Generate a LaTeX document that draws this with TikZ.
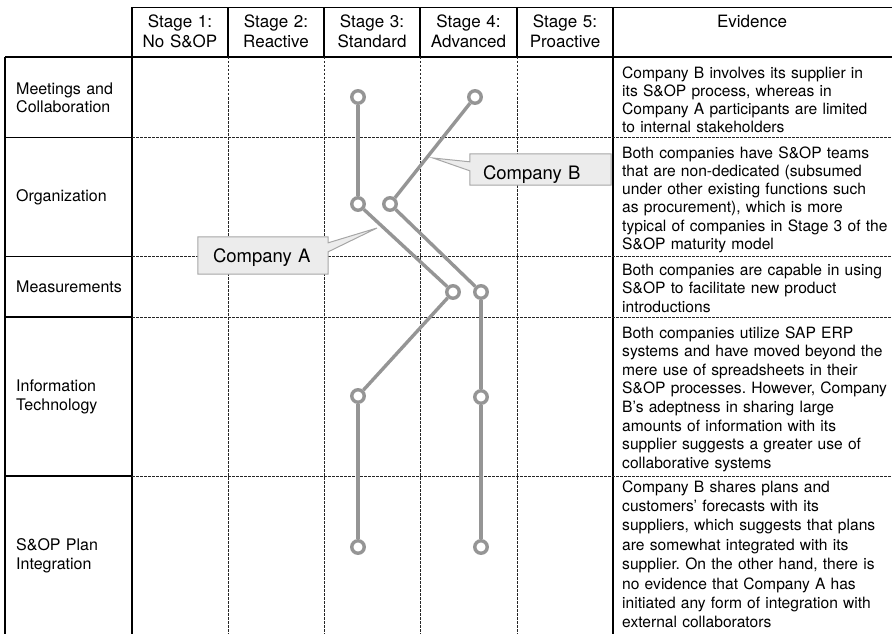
\documentclass[tikz,border=0pt]{standalone}
\usepackage{fontspec}
\setmainfont{TeX Gyre Heros}
\usetikzlibrary{backgrounds}
\frenchspacing
\definecolor{trailgray}{HTML}{959595}
\definecolor{calloutfill}{HTML}{ECECEC}
\definecolor{calloutdraw}{HTML}{A6A6A6}
\begin{document}
\begin{tikzpicture}[x=1pt,y=-1pt,
  solidrule/.style={line width=1.2pt,black},
  dashrule/.style={line width=0.7pt,black!85,dash pattern=on 2.5pt off 1.5pt},
  headtext/.style={font=\fontsize{17}{20}\selectfont,text width=94pt,align=center,inner sep=0pt,anchor=base},
  rowlabel/.style={font=\fontsize{16}{18.5}\selectfont,text width=112pt,align=left,inner sep=0pt,anchor=west},
  evidence/.style={font=\fontsize{15.6}{18.3}\selectfont,text width=300pt,align=left,inner sep=0pt,anchor=base west},
  stagept/.style={circle,draw=trailgray,line width=3.4pt,fill=white,minimum size=12.5pt,inner sep=0pt},
  trail/.style={draw=trailgray,line width=3.4pt},
  calloutbox/.style={font=\fontsize{18.5}{22}\selectfont,align=left,inner ysep=0pt},
  calloutshape/.style={fill=calloutfill,draw=calloutdraw,line width=1pt,line join=miter}
]
\useasboundingbox (0,0) rectangle (892,634);

% ---------- header ----------
\node[headtext] (h1) at (180,27.5) {Stage 1:\\No S\&OP};
\node[headtext] (h2) at (276,27.5) {Stage 2:\\Reactive};
\node[headtext] (h3) at (372,27.5) {Stage 3:\\Standard};
\node[headtext] (h4) at (468.5,27.5) {Stage 4:\\Advanced};
\node[headtext] (h5) at (565,27.5) {Stage 5:\\Proactive};
\node[headtext,text width=200pt] (hev) at (752,27.5) {Evidence};

% ---------- row labels ----------
\node[rowlabel] (r1) at (16,98) {Meetings and\\Collaboration};
\node[rowlabel] (r2) at (16,197) {Organization};
\node[rowlabel] (r3) at (16,287) {Measurements};
\node[rowlabel] (r4) at (16,397) {Information\\Technology};
\node[rowlabel] (r5) at (16,556) {S\&OP Plan\\Integration};

% ---------- evidence ----------
\node[evidence] (e1) at (622,78) {Company B involves its supplier in\\its S\&OP process, whereas in\\Company A participants are limited\\to internal stakeholders};
\node[evidence] (e2) at (622,158) {Both companies have S\&OP teams\\that are non-dedicated (subsumed\\under other existing functions such\\as procurement), which is more\\typical of companies in Stage 3 of the\\S\&OP maturity model};
\node[evidence,font=\fontsize{15.6}{18.5}\selectfont] (e3) at (622,275) {Both companies are capable in using\\S\&OP to facilitate new product\\introductions};
\node[evidence,font=\fontsize{15.6}{18.6}\selectfont] (e4) at (622,338) {Both companies utilize SAP ERP\\systems and have moved beyond the\\mere use of spreadsheets in their\\S\&OP processes. However, Company\\B’s adeptness in sharing large\\amounts of information with its\\supplier suggests a greater use of\\collaborative systems};
\node[evidence,font=\fontsize{15.6}{19.4}\selectfont] (e5) at (622,492) {Company B shares plans and\\customers’ forecasts with its\\suppliers, which suggests that plans\\are somewhat integrated with its\\supplier. On the other hand, there is\\no evidence that Company A has\\initiated any form of integration with\\external collaborators};

% ---------- callout texts ----------
\node[calloutbox,text width=100pt,inner xsep=15pt,minimum height=37pt,text height=18.3pt,text depth=3.9pt] (boxA) at (263,255.5) {Company A};
\node[calloutbox,text width=115pt,inner xsep=13pt,minimum height=31pt,text height=24pt,text depth=4pt] (boxB) at (540.5,169.5) {Company B};
\coordinate (tipA) at (377,228);
\coordinate (tipB) at (433,158);

\begin{scope}[on background layer]
  % grid
  \draw[solidrule] (132,7.5) -- (892,7.5);
  \draw[solidrule] (5,57) -- (892,57);
  \draw[solidrule] (5,57) -- (5,634);
  \draw[solidrule] (132,7.5) -- (132,634);
  \draw[solidrule] (613,7.5) -- (613,634);
  \foreach \x in {228,324,420,517} {
    \draw[solidrule] (\x,7.5) -- (\x,57);
    \draw[dashrule] (\x,57) -- (\x,634);
  }
  \foreach \y in {137.5,256.5,317,476} {
    \draw[solidrule] (5,\y) -- (132,\y);
    \draw[dashrule] (132,\y) -- (892,\y);
  }
  % callouts
  \path[calloutshape] (boxA.north west) -- (boxA.north east) -- ([yshift=-6pt]boxA.north east) -- (tipA) -- ([yshift=-15pt]boxA.north east) -- (boxA.south east) -- (boxA.south west) -- cycle;
  \path[calloutshape] (boxB.north west) -- (boxB.north east) -- (boxB.south east) -- (boxB.south west) -- ([yshift=-17pt]boxB.north west) -- (tipB) -- ([yshift=-8pt]boxB.north west) -- cycle;
\end{scope}

% ---------- company trails ----------
\node[stagept] (A1) at (358,97) {};
\node[stagept] (A2) at (358,204) {};
\node[stagept] (A3) at (453,292) {};
\node[stagept] (A4) at (358,396) {};
\node[stagept] (A5) at (358,547) {};
\node[stagept] (B1) at (475,97) {};
\node[stagept] (B2) at (390,204) {};
\node[stagept] (B3) at (481,292) {};
\node[stagept] (B4) at (481,397) {};
\node[stagept] (B5) at (481,547) {};
\foreach \a/\b in {A1/A2,A2/A3,A3/A4,A4/A5,B1/B2,B2/B3,B3/B4,B4/B5}
  \draw[trail] (\a) -- (\b);
\end{tikzpicture}
\end{document}
